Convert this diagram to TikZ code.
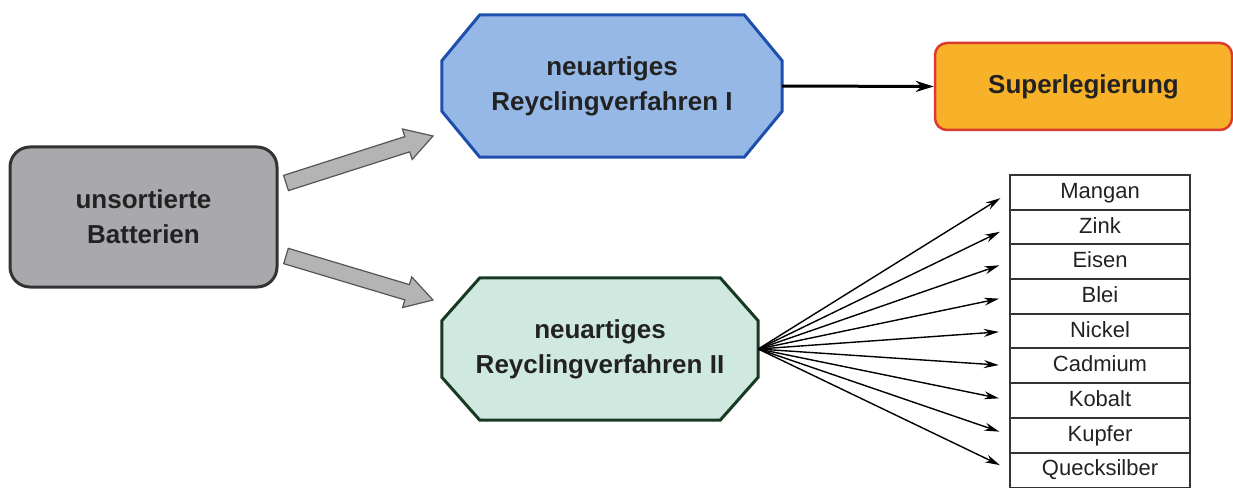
\documentclass[tikz,border=0pt]{standalone}
\usepackage{fontspec}
\setmainfont{Liberation Sans}
\usetikzlibrary{calc,arrows.meta}
\definecolor{grayfill}{HTML}{A9A9AD}
\definecolor{grayline}{HTML}{333333}
\definecolor{bluefill}{HTML}{96B8E6}
\definecolor{blueline}{HTML}{1F4FAE}
\definecolor{greenfill}{HTML}{CFE9E0}
\definecolor{greenline}{HTML}{183A22}
\definecolor{orangefill}{HTML}{F7B22A}
\definecolor{orangeline}{HTML}{DC3A2E}
\definecolor{arrowfill}{HTML}{B4B4B4}
\definecolor{arrowline}{HTML}{555555}
\definecolor{txt}{HTML}{222222}
\tikzset{
  boldtxt/.style={font=\fontsize{26}{35}\selectfont\bfseries, text=txt, align=center},
  octabox/.style={rectangle, inner sep=0pt},
  rowbox/.style={minimum width=180pt, minimum height=34.7pt, text height=16pt, text depth=4pt,
    inner sep=0pt, font=\fontsize{22}{24}\selectfont, text=txt},
  fan/.style={line width=1.4pt, -{Stealth[length=15pt,width=8pt]}, shorten >=11pt},
  blockarrow/.style={fill=arrowfill, draw=arrowline, line width=1.2pt, line join=miter}
}
\newcommand{\octagonpath}[4]{% node, xsep, ysep, style
  \draw[#4] ($(#1.north west)+(#2,0)$) -- ($(#1.north east)+(-#2,0)$) -- ($(#1.north east)+(0,#3)$)
    -- ($(#1.south east)+(0,-#3)$) -- ($(#1.south east)+(-#2,0)$) -- ($(#1.south west)+(#2,0)$)
    -- ($(#1.south west)+(0,-#3)$) -- ($(#1.north west)+(0,#3)$) -- cycle;}
\begin{document}
\begin{tikzpicture}[x=1pt,y=-1pt]
\useasboundingbox (0,0) rectangle (1233,489);
\fill[white] (0,0) rectangle (1233,489);

% source box
\node[draw=grayline, fill=grayfill, line width=3pt, rounded corners=20pt,
      minimum width=267pt, minimum height=140pt, boldtxt] (bat) at (143.5,217)
      {unsortierte\\Batterien};

% process I
\node[octabox, minimum width=340pt, minimum height=142pt] (p1) at (612,86) {};
\octagonpath{p1}{38}{46}{draw=blueline, fill=bluefill, line width=3pt, line join=miter}
\node[boldtxt] at (p1) {neuartiges\\Reyclingverfahren I};
% process II
\node[octabox, minimum width=316pt, minimum height=142pt] (p2) at (600,349) {};
\octagonpath{p2}{38}{43}{draw=greenline, fill=greenfill, line width=3pt, line join=miter}
\node[boldtxt] at (p2) {neuartiges\\Reyclingverfahren II};

% result
\node[draw=orangeline, fill=orangefill, line width=2.5pt, rounded corners=12pt,
      minimum width=297pt, minimum height=87pt, boldtxt] (sup) at (1083.5,86.5) {Superlegierung};

\draw[line width=3pt, -{Stealth[length=18pt,width=11pt]}] (p1.east) -- (sup.west);

% block arrows
\coordinate (s1) at (286,183);
\coordinate (t1) at (433,136);
\coordinate (s2) at (286,256);
\coordinate (t2) at (433,300);
\foreach \s/\t in {s1/t1,s2/t2}{
  \coordinate (h) at ($(\t)!27pt!(\s)$);
  \draw[blockarrow] ($(\s)!8pt!90:(\t)$) -- ($(h)!8pt!-90:(\s)$) -- ($(h)!16pt!-90:(\s)$)
     -- (\t) -- ($(h)!16pt!90:(\s)$) -- ($(h)!8pt!90:(\s)$) -- ($(\s)!8pt!-90:(\t)$) -- cycle;
}

% table
\foreach \name [count=\i from 0] in {Mangan,Zink,Eisen,Blei,Nickel,Cadmium,Kobalt,Kupfer,Quecksilber}{
  \node[rowbox] (r\i) at (1100,192.3+34.7*\i) {\name};
}
\foreach \i in {0,...,8}{
  \draw[grayline, line width=1.6pt] (r\i.north west) rectangle (r\i.south east);
}
\foreach \i in {0,...,8}{
  \draw[fan] (p2.east) -- (r\i.west);
}
\end{tikzpicture}
\end{document}
